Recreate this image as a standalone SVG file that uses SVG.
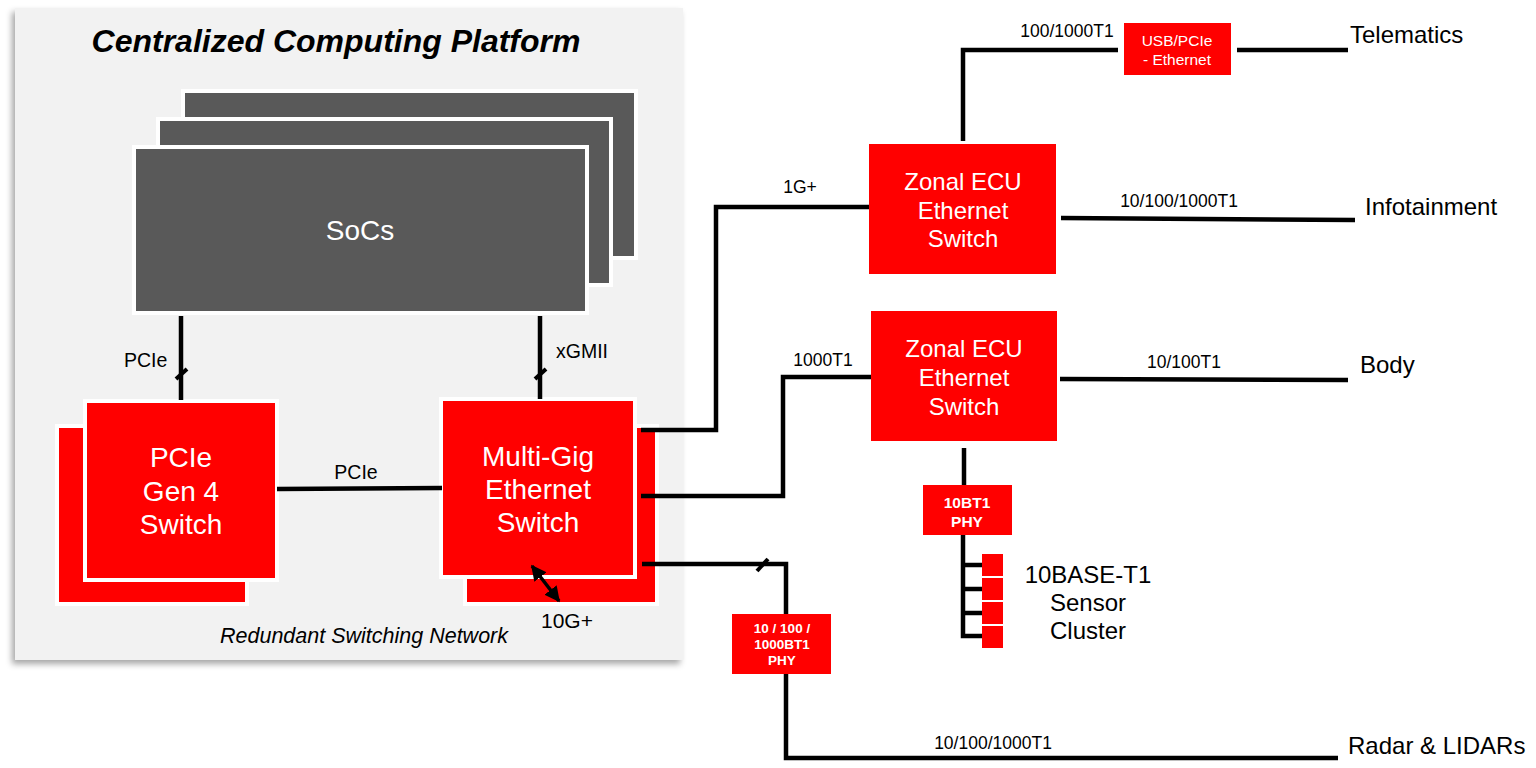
<svg xmlns="http://www.w3.org/2000/svg" width="1536" height="768" viewBox="0 0 1536 768">
  <defs>
    <filter id="panelShadow" x="-5%" y="-5%" width="110%" height="110%">
      <feDropShadow dx="-3" dy="4" stdDeviation="3" flood-color="#000" flood-opacity="0.35"/>
    </filter>
    <marker id="arrowHead" viewBox="0 0 10 10" refX="9" refY="5" markerWidth="4.4" markerHeight="4.4" orient="auto-start-reverse">
      <path d="M0,0 L10,5 L0,10 z" fill="#000"/>
    </marker>
  </defs>
  <style>
    text { font-family: "Liberation Sans", Arial, sans-serif; }
    .wire { fill: none; stroke: #000; stroke-width: 4.5; stroke-linejoin: miter; }
    .soc { fill: #595959; stroke: #fff; stroke-width: 4; }
    .red { fill: #ff0000; }
    .redB { fill: #ff0000; stroke: #fff; stroke-width: 4; }
    .big { fill: #fff; font-size: 28px; text-anchor: middle; }
    .zonal { fill: #fff; font-size: 24px; text-anchor: middle; }
    .lbl { fill: #000; font-size: 17.5px; text-anchor: middle; }
    .lbl19 { fill: #000; font-size: 19.5px; }
    .end { fill: #000; font-size: 24px; }
    .phy { fill: #fff; font-weight: bold; text-anchor: middle; }
    .tick { stroke: #000; stroke-width: 4; stroke-linecap: butt; }
  </style>

  <!-- platform panel -->
  <g id="platform">
    <rect x="15" y="8" width="668" height="652" fill="#f2f2f2" filter="url(#panelShadow)"/>
    <text x="336" y="52" style="font-size:32px" font-weight="bold" font-style="italic" text-anchor="middle" fill="#000">Centralized Computing Platform</text>
    <text x="364" y="643" style="font-size:21.5px" font-style="italic" text-anchor="middle" fill="#000">Redundant Switching Network</text>
  </g>

  <!-- stacked SoCs -->
  <g id="socs">
    <rect class="soc" x="183" y="91" width="453" height="167"/>
    <rect class="soc" x="158" y="119" width="453" height="166"/>
    <rect class="soc" x="134" y="147" width="453" height="166"/>
    <text class="big" x="360" y="240">SoCs</text>
  </g>

  <!-- PCIe Gen 4 switch (redundant pair) -->
  <g id="pcie-switch">
    <rect class="redB" x="57" y="426" width="190" height="178"/>
    <rect class="redB" x="85" y="401" width="192" height="179"/>
    <text class="big" x="181" y="467">PCIe</text>
    <text class="big" x="181" y="501">Gen 4</text>
    <text class="big" x="181" y="534">Switch</text>
  </g>

  <!-- Multi-Gig Ethernet switch (redundant pair) -->
  <g id="multigig-switch">
    <rect class="redB" x="465" y="426" width="192" height="178"/>
    <rect class="redB" x="441" y="399" width="194" height="178"/>
    <text class="big" x="538" y="466">Multi-Gig</text>
    <text class="big" x="538" y="499">Ethernet</text>
    <text class="big" x="538" y="532">Switch</text>
  </g>

  <!-- zonal ECUs -->
  <g id="zonal-ecu-1">
    <rect class="red" x="869" y="144" width="187" height="130"/>
    <text class="zonal" x="963" y="190">Zonal ECU</text>
    <text class="zonal" x="963" y="219">Ethernet</text>
    <text class="zonal" x="963" y="247">Switch</text>
  </g>
  <g id="zonal-ecu-2">
    <rect class="red" x="871" y="311" width="186" height="130"/>
    <text class="zonal" x="964" y="357">Zonal ECU</text>
    <text class="zonal" x="964" y="386">Ethernet</text>
    <text class="zonal" x="964" y="415">Switch</text>
  </g>

  <!-- bridge to telematics -->
  <g id="usb-bridge">
    <rect class="red" x="1124" y="23" width="107" height="52"/>
    <text x="1177" y="46" style="font-size:15.5px" fill="#fff" text-anchor="middle">USB/PCIe</text>
    <text x="1177" y="65" style="font-size:15.5px" fill="#fff" text-anchor="middle">- Ethernet</text>
  </g>

  <!-- PHYs -->
  <g id="phy-10bt1">
    <rect class="red" x="923" y="485" width="89" height="50"/>
    <text class="phy" x="967" y="508" style="font-size:15.5px">10BT1</text>
    <text class="phy" x="967" y="527" style="font-size:15.5px">PHY</text>
  </g>
  <g id="phy-1000bt1">
    <rect class="red" x="732" y="614" width="99" height="60"/>
    <text class="phy" x="782" y="633" style="font-size:13.5px">10 / 100 /</text>
    <text class="phy" x="782" y="649" style="font-size:13.5px">1000BT1</text>
    <text class="phy" x="782" y="665" style="font-size:13.5px">PHY</text>
  </g>

  <!-- 10BASE-T1 sensor cluster -->
  <g id="sensor-cluster">
    <rect class="red" x="982" y="554" width="21" height="22"/>
    <rect class="red" x="982" y="578" width="21" height="22"/>
    <rect class="red" x="982" y="602" width="21" height="22"/>
    <rect class="red" x="982" y="626" width="21" height="22"/>
    <text class="end" x="1088" y="583" text-anchor="middle">10BASE-T1</text>
    <text class="end" x="1088" y="611" text-anchor="middle">Sensor</text>
    <text class="end" x="1088" y="639" text-anchor="middle">Cluster</text>
  </g>

  <!-- end-point labels -->
  <g id="endpoints">
    <text class="end" x="1350" y="43">Telematics</text>
    <text class="end" x="1365" y="215">Infotainment</text>
    <text class="end" x="1360" y="373">Body</text>
    <text class="end" x="1348" y="754">Radar &amp; LIDARs</text>
  </g>

  <!-- connectors -->
  <g id="connectors">
    <!-- SoCs to switches -->
    <line class="wire" x1="181" y1="316" x2="181" y2="400"/>
    <line class="wire" x1="540" y1="316" x2="540" y2="399"/>
    <line class="tick" x1="176" y1="379" x2="187" y2="369"/>
    <line class="tick" x1="535" y1="379" x2="546" y2="369"/>
    <text class="lbl19" x="124" y="367">PCIe</text>
    <text class="lbl19" x="556" y="358">xGMII</text>

    <!-- PCIe between switches -->
    <line class="wire" x1="277" y1="489" x2="442" y2="488"/>
    <text class="lbl19" x="356" y="479" text-anchor="middle">PCIe</text>

    <!-- 10G+ link between redundant switches -->
    <line x1="532" y1="566" x2="559" y2="601" stroke="#000" stroke-width="3.5" marker-start="url(#arrowHead)" marker-end="url(#arrowHead)"/>
    <text x="541" y="628" style="font-size:21px" fill="#000">10G+</text>

    <!-- uplink to zonal ECU 1 -->
    <path class="wire" d="M641,430 H716 V207 H869"/>
    <text class="lbl" x="800" y="193">1G+</text>

    <!-- zonal ECU 1 to telematics -->
    <path class="wire" d="M963,141 V50 H1118"/>
    <text class="lbl" x="1067" y="37">100/1000T1</text>
    <line class="wire" x1="1237" y1="50" x2="1348" y2="50"/>

    <!-- zonal ECU 1 to infotainment -->
    <path class="wire" d="M1061,218 L1355,220"/>
    <text class="lbl" x="1179" y="207">10/100/1000T1</text>

    <!-- uplink to zonal ECU 2 -->
    <path class="wire" d="M641,496 H783 V377 H871"/>
    <text class="lbl" x="823" y="366">1000T1</text>

    <!-- zonal ECU 2 to body -->
    <path class="wire" d="M1060,379 L1348,380"/>
    <text class="lbl" x="1184" y="368">10/100T1</text>

    <!-- zonal ECU 2 to sensor PHY -->
    <line class="wire" x1="964" y1="448" x2="964" y2="485"/>
    <path class="wire" d="M963,535 V636 H982"/>
    <line class="wire" x1="963" y1="565" x2="982" y2="565"/>
    <line class="wire" x1="963" y1="589" x2="982" y2="589"/>
    <line class="wire" x1="963" y1="613" x2="982" y2="613"/>

    <!-- radar / lidar path, interrupted by the PHY -->
    <path class="wire" d="M642,564 H786 V614"/>
    <path class="wire" d="M786,674 V758 H1338"/>
    <line class="tick" x1="757" y1="571" x2="768" y2="559"/>
    <text class="lbl" x="993" y="749">10/100/1000T1</text>
  </g>
</svg>
